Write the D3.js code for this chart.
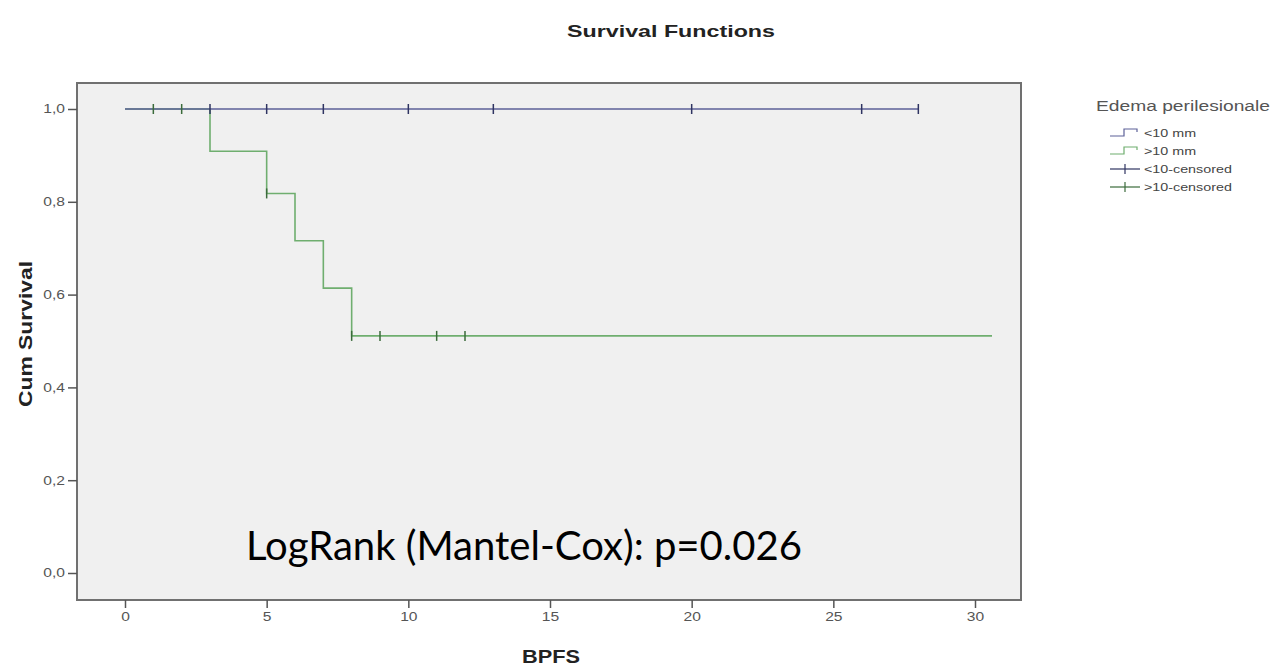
<!DOCTYPE html>
<html><head><meta charset="utf-8">
<script src="https://cdn.jsdelivr.net/npm/d3@7"></script>
<style>body{margin:0;background:#fff}svg{display:block}</style>
</head><body>
<svg id="c" width="1274" height="666"></svg>
<script>
// ---- data ----
const xTicks = [0, 5, 10, 15, 20, 25, 30];
const yTicks = [0, 0.2, 0.4, 0.6, 0.8, 1.0];
// group "<10 mm": no events
const blueLine = [[0, 1.0], [28, 1.0]];
const blueCensored = [3, 5, 7, 10, 13, 20, 26, 28];
// group ">10 mm"
const greenEventTimes = [3, 5, 6, 7, 8];
const greenSurvival = [0.909, 0.818, 0.716, 0.614, 0.511];
const greenCensored = [1, 2, 5, 8, 9, 11, 12];
const greenEnd = 30.6;
const legendLabels = ["<10 mm", ">10 mm", "<10-censored", ">10-censored"];

const svg = d3.select("#c");
const frame = {x0: 77, x1: 1021, y0: 83, y1: 600};
const x = d3.scaleLinear().domain([0, 30]).range([125, 975]);
const y = d3.scaleLinear().domain([0, 1]).range([573, 109]);

const blueCol = "#5d6198", blueMark = "#2f3462";
const greenCol = "#6fae6f", greenMark = "#3b6b3b";

function stretch(sel, f) {
  sel.each(function () {
    const w = this.getComputedTextLength();
    d3.select(this).attr("textLength", w * f).attr("lengthAdjust", "spacingAndGlyphs");
  });
}

svg.append("rect").attr("x", frame.x0).attr("y", frame.y0)
  .attr("width", frame.x1 - frame.x0).attr("height", frame.y1 - frame.y0)
  .attr("fill", "#f0f0f0");

// step function for green
function survAt(t) {
  let s = 1;
  greenEventTimes.forEach((et, i) => { if (t >= et) s = greenSurvival[i]; });
  return s;
}
const greenPts = [[0, 1]];
greenEventTimes.forEach((t, i) => {
  greenPts.push([t, i === 0 ? 1 : greenSurvival[i - 1]]);
  greenPts.push([t, greenSurvival[i]]);
});
greenPts.push([greenEnd, greenSurvival[greenSurvival.length - 1]]);

const line = d3.line().x(d => x(d[0])).y(d => y(d[1]));
svg.append("path").attr("d", line(greenPts)).attr("fill", "none")
  .attr("stroke", greenCol).attr("stroke-width", 1.6);
svg.append("path").attr("d", line(blueLine)).attr("fill", "none")
  .attr("stroke", blueCol).attr("stroke-width", 1.6);

function marks(times, lvl, col) {
  svg.append("g").selectAll("line").data(times).join("line")
    .attr("x1", d => x(d)).attr("x2", d => x(d))
    .attr("y1", d => y(lvl(d)) - 5).attr("y2", d => y(lvl(d)) + 5)
    .attr("stroke", col).attr("stroke-width", 1.5);
}
marks(blueCensored, () => 1, blueMark);
marks(greenCensored, survAt, greenMark);

// frame
svg.append("rect").attr("x", frame.x0).attr("y", frame.y0)
  .attr("width", frame.x1 - frame.x0).attr("height", frame.y1 - frame.y0)
  .attr("fill", "none").attr("stroke", "#707070").attr("stroke-width", 2);

// axes
const fmt = d => d3.format(".1f")(d).replace(".", ",");
const yAxis = svg.append("g").attr("transform", `translate(${frame.x0},0)`)
  .call(d3.axisLeft(y).tickValues(yTicks).tickFormat(fmt).tickSize(9).tickPadding(3));
const xAxis = svg.append("g").attr("transform", `translate(0,${frame.y1})`)
  .call(d3.axisBottom(x).tickValues(xTicks).tickSize(8).tickPadding(4));
[yAxis, xAxis].forEach(a => {
  a.select(".domain").remove();
  a.selectAll(".tick line").attr("stroke", "#555").attr("stroke-width", 1.5);
  a.selectAll(".tick text").attr("fill", "#555").style("font-family", "Liberation Sans, Arial, sans-serif").style("font-size", "12px");
});
stretch(yAxis.selectAll(".tick text"), 1.3);
stretch(xAxis.selectAll(".tick text"), 1.3);

// titles
const bold = "Liberation Sans, Arial, sans-serif";
const t1 = svg.append("text").attr("x", 671).attr("y", 37).attr("text-anchor", "middle")
  .style("font-family", bold).style("font-weight", "bold").style("font-size", "17px")
  .attr("fill", "#222").text("Survival Functions");
t1.attr("textLength", 208).attr("lengthAdjust", "spacingAndGlyphs");
const t2 = svg.append("text").attr("transform", "translate(32,334) rotate(-90)").attr("text-anchor", "middle")
  .style("font-family", bold).style("font-weight", "bold").style("font-size", "18px")
  .attr("fill", "#222").text("Cum Survival");
t2.attr("textLength", 146).attr("lengthAdjust", "spacingAndGlyphs");
const t3 = svg.append("text").attr("x", 551).attr("y", 663).attr("text-anchor", "middle")
  .style("font-family", bold).style("font-weight", "bold").style("font-size", "18px")
  .attr("fill", "#222").text("BPFS");
t3.attr("textLength", 58).attr("lengthAdjust", "spacingAndGlyphs");

// annotation
svg.append("text").attr("x", 246).attr("y", 560)
  .style("font-family", "Lato, 'Open Sans', sans-serif").style("font-size", "40px")
  .attr("fill", "#000").text("LogRank (Mantel-Cox): p=0.026")
  .attr("textLength", 556).attr("lengthAdjust", "spacingAndGlyphs");

// legend
const lg = svg.append("g");
lg.append("text").attr("x", 1096).attr("y", 111)
  .style("font-family", bold).style("font-size", "14px").attr("fill", "#555")
  .text("Edema perilesionale").attr("textLength", 174).attr("lengthAdjust", "spacingAndGlyphs");
const rowY = [133, 151, 169, 187];
const symCols = [blueCol, greenCol, blueMark, greenMark];
legendLabels.forEach((lab, i) => {
  const g = lg.append("g").attr("transform", `translate(1110,${rowY[i]})`);
  if (i < 2) {
    g.append("path").attr("d", "M0,3H14V-4H27V-1").attr("fill", "none")
      .attr("stroke", symCols[i]).attr("stroke-width", 1.2);
  } else {
    g.append("line").attr("x1", 0).attr("x2", 30).attr("y1", 0).attr("y2", 0)
      .attr("stroke", symCols[i]).attr("stroke-width", 1.2);
    g.append("line").attr("x1", 15).attr("x2", 15).attr("y1", -5).attr("y2", 5)
      .attr("stroke", symCols[i]).attr("stroke-width", 1.2);
  }
  const tx = g.append("text").attr("x", 34).attr("y", 4)
    .style("font-family", bold).style("font-size", "11px").attr("fill", "#444").text(lab);
  stretch(tx, 1.3);
});
</script>
</body></html>
